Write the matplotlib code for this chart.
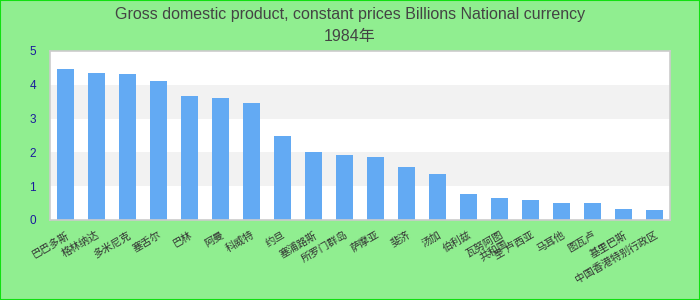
import matplotlib
matplotlib.use("Agg")
import matplotlib.pyplot as plt
import numpy as np

plt.rcParams['font.family'] = ['Liberation Sans', 'Noto Sans CJK SC', 'DejaVu Sans']

# data
countries = ["巴巴多斯", "格林纳达", "多米尼克", "塞舌尔", "巴林", "阿曼", "科威特",
             "约旦", "塞浦路斯", "所罗门群岛", "萨摩亚", "斐济", "汤加", "伯利兹",
             "瓦努阿图\n共和国", "圣 卢西亚", "马耳他", "图瓦卢", "基里巴斯",
             "中国香港特别行政区"]
values = [4.47, 4.35, 4.32, 4.11, 3.67, 3.61, 3.46, 2.49, 2.01, 1.92,
          1.86, 1.57, 1.36, 0.77, 0.65, 0.59, 0.50, 0.50, 0.33, 0.30]
yticks = [0, 1, 2, 3, 4, 5]
title_1 = "Gross domestic product, constant prices Billions National currency"
title_2 = "1984年"

bg = "#90ee90"
bar_color = "#63aaf3"
band_color = "#f2f2f2"
tick_color = "#1a1a9c"

fig = plt.figure(figsize=(7, 3), dpi=100, facecolor=bg)
ax = fig.add_axes([50 / 700, 80 / 300, 620 / 700, 169 / 300])
ax.set_facecolor("white")

# alternating bands
for lo in [1, 3]:
    ax.axhspan(lo, lo + 1, color=band_color, zorder=0, lw=0)

x = np.arange(len(countries))
ax.bar(x, values, width=0.55, color=bar_color, zorder=2)

ax.set_xlim(-0.5, len(countries) - 0.5)
ax.set_ylim(0, 5)
ax.set_yticks(yticks)
ax.set_yticklabels([str(t) for t in yticks], color=tick_color, fontsize=8.5)
ax.set_xticks(x)
ax.set_xticklabels(countries, rotation=30, ha="right", rotation_mode="anchor",
                   fontsize=7.5, color="#333333", linespacing=1.0)
ax.tick_params(axis="both", length=0)
ax.tick_params(axis="y", pad=10)
ax.tick_params(axis="x", pad=7)

for s in ax.spines.values():
    s.set_color("#cccccc")
    s.set_linewidth(1.2)

fig.text(0.5, 1 - 14 / 300, title_1, ha="center", va="center", fontsize=11.5, color="#444444")
fig.text(0.5, 1 - 37 / 300, title_2, ha="center", va="center", fontsize=11.5, color="#444444")

# green frame around the figure
fig.patches.append(plt.Rectangle((0, 0), 1, 1, transform=fig.transFigure, fill=False,
                                 edgecolor="#11e011", linewidth=1.5))

fig.savefig("out.png", dpi=100, facecolor=bg)
